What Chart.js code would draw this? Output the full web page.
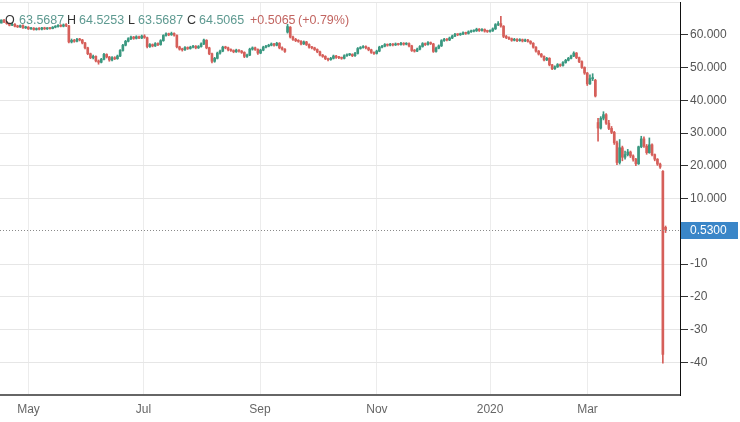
<!DOCTYPE html>
<html>
<head>
<meta charset="utf-8">
<script src="https://cdn.jsdelivr.net/npm/chart.js@4.4.1/dist/chart.umd.min.js"></script>
<style>
  html, body { margin: 0; padding: 0; background: #fff; }
  #wrap { width: 740px; height: 422px; }
</style>
</head>
<body>
<div id="wrap"><canvas id="myChart"></canvas></div>
<script>
// daily candles, Apr 2019 -> Apr 2020
const opens = [
  63.57,64.4,63.9,63.4,62.9,63.2,62.6,62.4,62.8,62.1,62.3,61.8,62.0,61.6,61.9,61.7,62.1,61.8,62.0,61.9,
  62.3,62.5,62.9,62.6,63.0,62.7,57.8,58.3,58.0,58.6,58.4,57.5,56.0,54.2,53.0,53.4,52.0,51.6,52.5,54.0,
  53.2,52.3,53.0,52.7,53.5,55.2,56.8,58.0,58.8,59.3,58.9,59.4,59.0,59.6,59.1,56.4,57.0,56.6,57.3,57.0,
  58.2,59.8,60.3,60.0,60.4,59.8,56.3,55.6,55.4,56.1,55.8,56.2,56.5,56.0,56.4,57.2,58.3,56.0,54.2,51.9,
  52.8,54.4,55.0,56.2,56.0,55.4,55.2,54.8,55.3,55.0,54.6,53.4,53.8,55.6,56.0,55.5,54.4,55.3,56.2,56.5,
  56.8,57.2,56.8,57.4,56.0,55.6,60.8,62.3,59.3,58.6,58.2,58.0,57.2,57.8,57.0,56.2,56.0,55.5,54.8,53.8,
  53.4,52.7,52.4,52.8,53.5,53.1,53.0,52.8,53.6,53.9,54.0,53.6,54.3,55.8,56.1,56.4,56.0,55.4,54.6,54.3,
  55.0,56.2,56.5,57.0,56.8,57.1,56.9,57.2,57.0,57.4,57.1,57.3,56.6,55.2,55.0,55.6,56.4,57.3,57.0,57.6,
  57.2,54.9,55.9,56.6,58.2,58.6,58.4,59.0,59.6,60.1,60.0,60.2,60.6,60.4,60.9,61.1,61.2,61.7,61.3,61.6,
  61.1,61.0,61.2,61.8,63.1,63.4,62.6,59.5,59.1,58.8,58.3,58.6,58.2,58.5,58.1,58.4,58.0,57.4,56.2,55.0,
  54.1,53.4,52.3,52.8,50.8,49.6,50.2,50.9,50.6,51.5,52.2,52.8,53.5,54.4,53.0,51.8,50.0,48.3,45.0,46.6,
  46.1,33.2,31.5,34.5,35.6,33.0,31.4,30.2,27.0,21.0,25.5,22.6,23.4,24.2,23.0,22.0,20.6,25.8,28.2,26.0,
  24.0,26.4,23.4,22.0,20.5,18.3,1.2
];
const highs = [
  64.53,64.7,64.1,63.6,63.5,63.4,62.9,63.0,63.0,62.6,62.5,62.3,62.2,62.1,62.2,62.3,62.3,62.2,62.2,62.5,
  62.8,63.1,63.1,63.3,63.4,62.9,58.7,58.6,58.9,58.9,58.6,57.7,56.2,54.4,53.8,53.6,52.3,52.8,54.3,54.2,
  53.4,53.3,53.3,53.8,55.5,57.1,58.3,59.1,59.6,59.5,59.7,59.6,59.9,60.0,59.3,57.3,57.2,57.6,57.5,58.5,
  60.0,60.6,60.5,60.8,60.6,60.0,56.5,55.9,56.4,56.3,56.5,56.8,56.7,56.7,57.5,58.7,58.5,56.2,54.4,53.1,
  54.7,55.3,56.5,56.5,56.2,55.7,55.4,55.6,55.5,55.2,54.8,54.1,55.9,56.3,56.2,55.7,55.6,56.5,56.8,57.1,
  57.5,57.4,57.7,57.6,56.3,55.8,63.2,62.5,59.6,58.9,58.5,58.2,58.1,58.0,57.2,56.5,56.2,55.7,55.0,54.0,
  53.6,52.9,53.1,53.8,53.7,53.4,53.2,53.9,54.2,54.3,54.2,54.6,56.1,56.4,56.7,56.6,56.2,55.6,54.8,55.3,
  56.5,56.8,57.3,57.2,57.4,57.3,57.5,57.4,57.7,57.6,57.6,57.5,56.8,55.5,55.9,56.7,57.6,57.5,57.9,57.8,
  57.4,56.2,56.9,58.5,58.9,58.8,59.3,59.9,60.4,60.3,60.5,60.9,60.8,61.2,61.4,61.5,62.0,61.9,61.9,61.8,
  61.4,61.5,62.1,63.4,64.0,65.6,62.8,59.8,59.4,59.0,58.9,58.8,58.8,58.7,58.7,58.6,58.2,57.6,56.4,55.2,
  54.3,53.6,53.1,53.0,51.0,50.5,51.2,51.1,51.8,52.5,53.1,53.8,54.8,54.6,53.2,52.0,50.2,48.5,47.8,48.1,
  46.4,34.5,35.0,36.5,35.9,33.9,32.0,30.5,27.5,28.0,26.0,24.5,25.0,24.5,23.3,22.3,26.0,29.0,28.8,26.5,
  28.5,26.7,23.6,22.2,20.8,18.5,1.6
];
const lows = [
  63.57,63.7,63.2,62.7,62.8,62.4,62.2,62.2,61.9,61.9,61.6,61.6,61.4,61.4,61.5,61.5,61.6,61.6,61.7,61.8,
  62.1,62.3,62.4,62.4,62.5,57.5,57.5,57.7,57.8,58.1,57.2,55.7,53.9,52.7,52.6,51.7,51.0,51.4,52.3,52.9,
  51.9,52.0,52.4,52.5,53.3,55.0,56.6,57.8,58.5,58.6,58.7,58.8,58.8,58.9,56.0,56.1,56.3,56.4,56.7,56.8,
  58.0,59.6,59.7,59.8,59.6,56.0,55.3,55.0,55.2,55.5,55.6,56.0,55.7,55.8,56.2,57.0,55.7,53.9,51.4,51.6,
  52.6,54.1,54.8,55.7,55.1,54.9,54.5,54.6,54.7,54.3,53.0,53.1,53.6,55.3,55.2,54.0,54.2,55.1,56.0,56.3,
  56.6,56.5,56.6,55.7,55.3,54.6,60.5,59.0,58.3,57.9,57.7,56.9,57.0,56.7,55.9,55.7,55.2,54.5,53.5,53.1,
  52.4,52.0,52.2,52.6,52.8,52.7,52.5,52.6,53.4,53.6,53.3,53.4,54.1,55.6,55.9,55.7,55.1,54.3,54.0,54.1,
  54.8,56.0,56.3,56.5,56.6,56.6,56.7,56.8,56.8,56.8,56.9,56.3,54.9,54.7,54.8,55.4,56.2,56.7,56.8,57.0,
  54.6,54.7,55.7,56.4,58.0,58.1,58.2,58.8,59.4,59.7,59.8,60.0,60.1,60.2,60.7,60.9,61.0,61.0,61.1,60.8,
  60.7,60.8,61.0,61.6,62.8,62.3,59.1,58.8,58.5,58.0,58.1,57.9,58.0,57.8,57.9,57.7,57.1,55.9,54.7,53.8,
  53.1,52.0,52.1,50.5,49.3,49.4,50.0,50.3,50.4,51.3,52.0,52.6,53.3,52.7,51.5,49.7,47.9,44.5,44.8,46.0,
  41.0,27.5,31.2,34.0,32.6,31.0,29.8,26.5,20.3,20.5,21.5,22.0,23.0,22.5,21.4,20.0,20.4,25.5,25.6,23.5,
  23.8,23.0,21.5,20.1,19.2,-40.3,-0.4
];
const closes = [
  64.51,63.9,63.4,62.9,63.2,62.6,62.4,62.8,62.1,62.3,61.8,62.0,61.6,61.9,61.7,62.1,61.8,62.0,61.9,62.3,
  62.5,62.9,62.6,63.0,62.8,57.8,58.3,58.0,58.6,58.4,57.5,56.0,54.2,53.0,53.4,52.0,51.6,52.5,54.0,53.2,
  52.3,53.0,52.7,53.5,55.2,56.8,58.0,58.8,59.3,58.9,59.4,59.0,59.6,59.2,56.4,57.0,56.6,57.3,57.0,58.2,
  59.8,60.3,60.0,60.4,59.9,56.3,55.6,55.4,56.1,55.8,56.2,56.5,56.0,56.4,57.2,58.4,56.0,54.2,51.9,52.8,
  54.4,55.0,56.2,56.0,55.4,55.2,54.8,55.3,55.0,54.6,53.4,53.8,55.6,56.0,55.5,54.4,55.3,56.2,56.5,56.8,
  57.2,56.8,57.4,56.0,55.6,54.9,62.5,59.3,58.6,58.2,58.0,57.2,57.8,57.0,56.2,56.0,55.5,54.8,53.8,53.4,
  52.7,52.4,52.8,53.5,53.1,53.0,52.8,53.6,53.9,54.0,53.6,54.3,55.8,56.1,56.4,56.0,55.4,54.6,54.3,55.0,
  56.2,56.5,57.0,56.8,57.1,56.9,57.2,57.0,57.4,57.1,57.3,56.6,55.2,55.0,55.6,56.4,57.3,57.0,57.6,57.3,
  54.9,55.9,56.6,58.2,58.6,58.4,59.0,59.6,60.1,60.0,60.2,60.6,60.4,60.9,61.1,61.2,61.7,61.3,61.6,61.1,
  61.0,61.2,61.8,63.1,63.3,62.7,59.5,59.1,58.8,58.3,58.6,58.2,58.5,58.1,58.4,58.0,57.4,56.2,55.0,54.1,
  53.4,52.3,52.8,50.8,49.6,50.2,50.9,50.6,51.5,52.2,52.8,53.5,54.4,53.0,51.8,50.0,48.3,45.0,46.6,46.8,
  41.3,31.5,34.5,35.6,33.0,31.4,30.2,27.0,21.0,25.5,22.6,23.4,24.2,23.0,22.0,20.6,25.8,28.2,26.0,24.0,
  26.4,23.4,22.0,20.5,19.6,-37.6,0.53
];

// month boundaries in candle-index units
const monthTicks = [10.05, 52.65, 95.8, 139.1, 181, 217.1];
const monthLabels = ["May", "Jul", "Sep", "Nov", "2020", "Mar"];

const header = ["O", "63.5687", "H", "64.5253", "L", "63.5687", "C", "64.5065", "+0.5065", "(+0.79%)"];

const UP = "#3a9880";
const DOWN = "#d65f5a";
const FONT = 'Arial, "Liberation Sans", sans-serif';

Chart.defaults.font.family = FONT;

const candleColor = (ctx) => {
  const i = ctx.dataIndex;
  return closes[i] >= opens[i] ? UP : DOWN;
};

const lastPrice = closes[closes.length - 1];

const overlay = {
  id: "overlay",
  afterDatasetsDraw(chart) {
    const { ctx, chartArea, scales } = chart;
    const y = Math.round(scales.y.getPixelForValue(lastPrice)) + 0.5;

    ctx.save();
    // dotted last-price line
    ctx.strokeStyle = "#8a8a8a";
    ctx.lineWidth = 1;
    ctx.setLineDash([1, 2]);
    ctx.beginPath();
    ctx.moveTo(chartArea.left, y);
    ctx.lineTo(chartArea.right, y);
    ctx.stroke();
    ctx.setLineDash([]);

    // price tag
    ctx.fillStyle = "#3a86c8";
    ctx.fillRect(chartArea.right + 1, y - 8.5, 57, 17);
    ctx.fillStyle = "#fff";
    ctx.font = "12px " + FONT;
    ctx.textBaseline = "middle";
    ctx.textAlign = "left";
    ctx.fillText(lastPrice.toFixed(4), chartArea.right + 10, y + 0.5);

    // OHLC header
    const xs = [5, 19, 67, 79, 128, 138, 187, 199, 250, 298];
    const cols = ["#333", "#5e9a91", "#333", "#5e9a91", "#333", "#5e9a91", "#333", "#5e9a91", "#c26561", "#c26561"];
    ctx.font = "12.5px " + FONT;
    ctx.textBaseline = "alphabetic";
    header.forEach((t, i) => {
      ctx.fillStyle = cols[i];
      ctx.fillText(t, xs[i], 24);
    });
    ctx.restore();
  }
};

new Chart(document.getElementById("myChart"), {
  type: "bar",
  data: {
    datasets: [
      {
        label: "body",
        data: closes.map((c, i) => ({ x: i, y: [opens[i], c] })),
        backgroundColor: candleColor,
        barThickness: 2,
        minBarLength: 1,
        grouped: false,
      },
      {
        label: "wick",
        data: closes.map((c, i) => ({ x: i, y: [lows[i], highs[i]] })),
        backgroundColor: candleColor,
        barThickness: 1,
        grouped: false,
      },
    ],
  },
  options: {
    responsive: true,
    maintainAspectRatio: false,
    animation: false,
    layout: { padding: { top: 2, left: 0, right: 0, bottom: 0 } },
    plugins: { legend: { display: false }, tooltip: { enabled: false } },
    scales: {
      x: {
        type: "linear",
        min: -0.5,
        max: 251.35,
        offset: false,
        afterBuildTicks: (s) => {
          s.ticks = monthTicks.map((v) => ({ value: v }));
        },
        afterFit: (s) => {
          s.height = 27;
          s.paddingLeft = 0;
          s.paddingRight = 0;
        },
        ticks: {
          autoSkip: false,
          maxRotation: 0,
          color: "#666",
          font: { size: 12 },
          padding: 7,
          callback: (v, i) => monthLabels[i],
        },
        grid: { color: "#ececec", drawTicks: false, offset: false },
        border: { color: "#666", width: 2 },
      },
      y: {
        position: "right",
        min: -50,
        max: 70,
        afterFit: (s) => {
          s.width = 60;
          s.paddingTop = 0;
          s.paddingBottom = 0;
        },
        ticks: {
          stepSize: 10,
          color: "#555",
          font: { size: 12 },
          padding: 2,
          callback: (v) => {
            if (v === 0 || v === 70 || v === -50) return "";
            return v > 0 ? v.toFixed(3) : String(v);
          },
        },
        grid: {
          color: (ctx) => (ctx.tick && ctx.tick.value === 0 ? "rgba(0,0,0,0)" : "#e6e6e6"),
          tickColor: (ctx) => {
            const v = ctx.tick && ctx.tick.value;
            return v === 0 || v === 70 || v === -50 ? "rgba(0,0,0,0)" : "#333";
          },
          tickLength: 8,
        },
        border: { color: "#111", width: 1 },
      },
    },
  },
  plugins: [overlay],
});
</script>
</body>
</html>
